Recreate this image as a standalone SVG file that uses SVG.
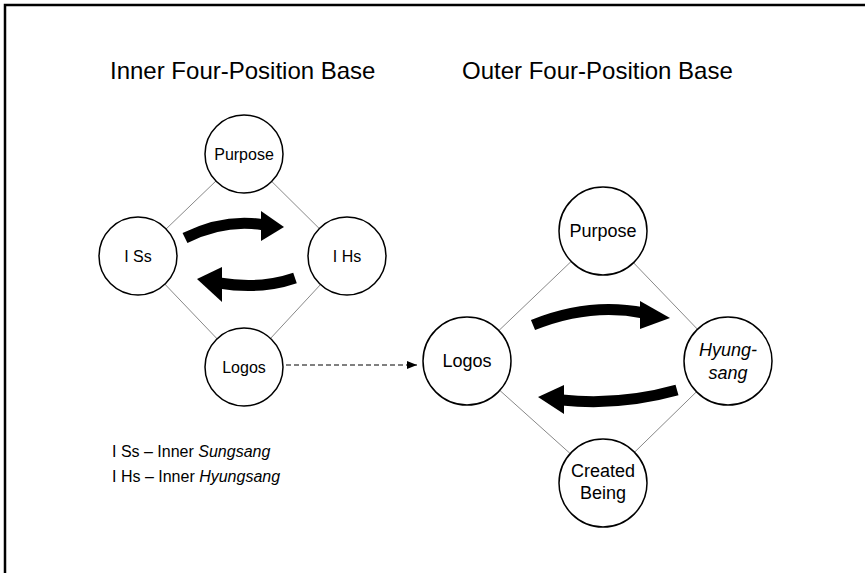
<svg xmlns="http://www.w3.org/2000/svg" width="865" height="573" viewBox="0 0 865 573">
<style>
.node{fill:#fff;stroke:#000;stroke-width:1.5}
.edge{stroke:#888;stroke-width:1;fill:none}
.t{font-family:"Liberation Sans",Arial,sans-serif;fill:#000}
.title{font-size:24px}
.in{font-size:16px;text-anchor:middle}
.out{font-size:18px;text-anchor:middle}
.legend{font-size:16px}
.arr{fill:none;stroke:#000;stroke-width:11}
</style>
<defs>
<filter id="soft" x="-10%" y="-30%" width="120%" height="160%"><feGaussianBlur stdDeviation="0.7"/></filter>
<marker id="dash-head" markerWidth="10" markerHeight="8" refX="10" refY="4" orient="auto" markerUnits="userSpaceOnUse"><path d="M0,0 L10,4 L0,8 Z" fill="#000"/></marker>
</defs>
<rect width="865" height="573" fill="#fff"/>
<path d="M5,573 V5 H865" fill="none" stroke="#000" stroke-width="2.5"/>
<text class="t title" x="110" y="79">Inner Four-Position Base</text>
<text class="t title" x="462" y="79">Outer Four-Position Base</text>
<g id="connectors">
<path class="edge" d="M244,154 L138,256 L244,367 L347,256 Z"/>
<path class="edge" d="M603,231 L467,361 L603,483 L728,361 Z"/>
<line x1="286" y1="365" x2="417" y2="365" stroke="#000" stroke-width="1" stroke-dasharray="5,3" marker-end="url(#dash-head)"/>
<g filter="url(#soft)">
<path class="arr" d="M185,238 Q225,218 265,225"/>
<path d="M261,211 L284,227 L261,241 Z" fill="#000"/>
<path class="arr" d="M295,278 Q260,290 219,283"/>
<path d="M222,267 L197,279 L222,302 Z" fill="#000"/>
<path class="arr" d="M533,325 Q590,302 644,313"/>
<path d="M640,301 L670,318 L640,329 Z" fill="#000"/>
<path class="arr" d="M677,390 Q620,406 562,400"/>
<path d="M564,385 L538,397 L564,414 Z" fill="#000"/>
</g>
</g>
<g id="inner-purpose"><circle class="node" cx="244" cy="154" r="39"/><text class="t in" x="244" y="160">Purpose</text></g>
<g id="inner-iss"><circle class="node" cx="138" cy="256" r="39"/><text class="t in" x="138" y="262">I Ss</text></g>
<g id="inner-ihs"><circle class="node" cx="347" cy="256" r="39"/><text class="t in" x="347" y="262">I Hs</text></g>
<g id="inner-logos"><circle class="node" cx="244" cy="367" r="39"/><text class="t in" x="244" y="373">Logos</text></g>
<g id="outer-purpose"><circle class="node" cx="603" cy="231" r="44"/><text class="t out" x="603" y="237">Purpose</text></g>
<g id="outer-logos"><circle class="node" cx="467" cy="361" r="44"/><text class="t out" x="467" y="367">Logos</text></g>
<g id="outer-hyungsang"><circle class="node" cx="728" cy="361" r="44"/><text class="t out" x="728" y="356" font-style="italic">Hyung-</text><text class="t out" x="728" y="379" font-style="italic">sang</text></g>
<g id="outer-created"><circle class="node" cx="603" cy="483" r="44"/><text class="t out" x="603" y="477">Created</text><text class="t out" x="603" y="499">Being</text></g>
<g id="legend">
<text class="t legend" x="112" y="457">I Ss – Inner <tspan font-style="italic">Sungsang</tspan></text>
<text class="t legend" x="112" y="482">I Hs – Inner <tspan font-style="italic">Hyungsang</tspan></text>
</g>
</svg>
